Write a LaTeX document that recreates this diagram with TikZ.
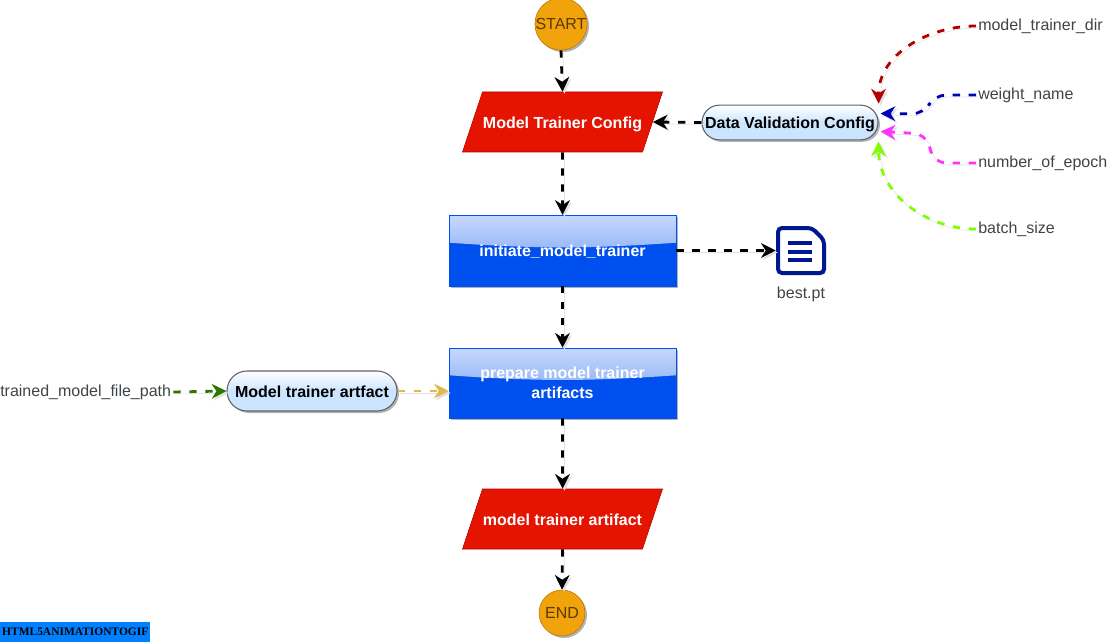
\documentclass[tikz,border=0pt]{standalone}
\usepackage{fontspec}
\setmainfont{Liberation Sans}
\newfontfamily\badgefont{Liberation Serif}
\usetikzlibrary{arrows.meta, positioning, calc, shadows, shapes.geometric, shapes.misc}

\definecolor{startfill}{HTML}{F0A30A}
\definecolor{startline}{HTML}{BD7000}
\definecolor{startfont}{HTML}{5C3A00}
\definecolor{redfill}{HTML}{E51400}
\definecolor{redline}{HTML}{B20000}
\definecolor{bluefill}{HTML}{0050EF}
\definecolor{pillfill}{HTML}{CCE5FF}
\definecolor{pillline}{HTML}{5F6368}
\definecolor{labelfont}{HTML}{3F4448}
\definecolor{navyicon}{HTML}{00188F}
\definecolor{badgeblue}{HTML}{0080FF}
\definecolor{weightline}{HTML}{0000BB}
\definecolor{epochline}{HTML}{FF33FF}
\definecolor{batchline}{HTML}{80FF00}
\definecolor{pathline}{HTML}{2D7600}
\definecolor{goldline}{HTML}{E0B84F}

\tikzset{
    softshadow/.style={drop shadow={shadow xshift=1.5pt, shadow yshift=-1.5pt, opacity=0.3, fill=black}},
    basefont/.style={font=\fontsize{12}{15}\selectfont},
    terminal/.style={circle, basefont, draw=startline, fill=startfill, text=startfont, inner sep=0pt, softshadow},
    databox/.style={trapezium, trapezium left angle=71.6, trapezium right angle=108.4, trapezium stretches body=true,
        minimum width=150pt, inner xsep=0pt, inner ysep=16.5pt, text height=10.5pt, text depth=1.5pt,
        font=\fontsize{12}{15}\selectfont\bfseries, draw=redline, line width=0.4pt, fill=redfill, text=white},
    stepbox/.style={rectangle, minimum width=170.25pt, inner sep=0pt, align=center, text=white,
        font=\fontsize{12}{15}\selectfont\bfseries, draw=bluefill, fill=bluefill, softshadow,
        path picture={
            \shade[top color=bluefill!22, bottom color=bluefill!60]
                (path picture bounding box.north west) -- (path picture bounding box.north east)
                -- ($(path picture bounding box.north east)!0.39!(path picture bounding box.south east)$)
                to[bend left=4] ($(path picture bounding box.north west)!0.39!(path picture bounding box.south west)$)
                -- cycle;
        }},
    pillbox/.style={rounded rectangle, inner sep=0pt, font=\fontsize{12}{15}\selectfont\bfseries, text=black,
        text height=9.5pt, text depth=0.5pt,
        draw=pillline, line width=0.8pt, top color=white, bottom color=pillfill, middle color=pillfill, softshadow},
    fieldlabel/.style={basefont, text=labelfont, inner sep=1.5pt},
    flowline/.style={line width=2.1pt, dash pattern=on 5.5pt off 6.5pt,
        -{Stealth[length=11pt, width=11pt, inset=3.5pt]},
        preaction={draw=black!12, transform canvas={shift={(1.5pt,-1.5pt)}}}},
}

\begin{document}
\begin{tikzpicture}[x=0.75pt, y=-0.75pt]
    \useasboundingbox (0,0) rectangle (1115,642);

    % main column
    \node[terminal, minimum size=36.5pt] (startNode) at (561,24) {START};
    \node[databox] (configBox) at (562.5,122) {Model Trainer Config};
    \node[stepbox, minimum height=53pt, text height=9.5pt, text depth=0.5pt] (initiateBox) at (562.5,250.5) {initiate\_model\_trainer};
    \node[stepbox, minimum height=52.5pt] (prepareBox) at (562.5,383) {prepare model trainer\\artifacts};
    \node[databox] (artifactBox) at (562.5,519) {model trainer artifact};
    \node[terminal, minimum size=34.5pt] (endNode) at (562,613) {END};

    % side nodes
    \node[pillbox, minimum width=132pt, minimum height=26pt] (validationPill) at (790,122.5) {Data Validation Config};
    \node[pillbox, minimum width=127.5pt, minimum height=30pt] (trainerPill) at (312,391) {Model trainer artfact};

    \node[fieldlabel, anchor=west] (dirLabel) at (976,26) {model\_trainer\_dir};
    \node[fieldlabel, anchor=west] (weightLabel) at (976,95) {weight\_name};
    \node[fieldlabel, anchor=west] (epochLabel) at (976,163) {number\_of\_epoch};
    \node[fieldlabel, anchor=west] (batchLabel) at (976,229) {batch\_size};
    \node[fieldlabel, anchor=west] (pathLabel) at (-2,392) {trained\_model\_file\_path};

    % output file
    \node[minimum size=37.5pt, inner sep=0pt] (bestFile) at (801,250.5) {};
    \draw[navyicon, line width=3pt, rounded corners=3pt, fill=white, drop shadow={shadow xshift=1.5pt, shadow yshift=-1.5pt, opacity=0.2, fill=black}]
        (778,228) -- (812,228) -- (824,240) -- (824,273) -- (778,273) -- cycle;
    \foreach \y in {243,252,260} {
        \draw[navyicon, line width=2.6pt] (788,\y) -- (812,\y);
    }
    \node[fieldlabel, below=6.5pt of bestFile.south] (bestLabel) {best.pt};

    % badge
    \node[anchor=south west, fill=badgeblue, text=black, minimum width=112.5pt, minimum height=15pt, inner sep=0pt,
        font=\badgefont\fontsize{8.6}{10}\selectfont\bfseries] (badgeNode) at (0,642) {HTML5ANIMATIONTOGIF};

    % flow
    \foreach \a/\b in {startNode/configBox, configBox/initiateBox, initiateBox/prepareBox, prepareBox/artifactBox, artifactBox/endNode} {
        \draw[flowline, black] (\a.south) -- (\b.north);
    }
    \draw[flowline, black] (validationPill.west) -- (configBox.east);
    \draw[flowline, black] (initiateBox.east) -- (bestFile.west);

    % inputs of the config
    \coordinate (dirEnd) at ($(validationPill.east)+(0,-19)$);
    \coordinate (weightEnd) at ($(validationPill.east)+(2,-9)$);
    \coordinate (epochEnd) at ($(validationPill.east)+(2,9)$);
    \coordinate (batchEnd) at ($(validationPill.east)+(0,19)$);

    \draw[flowline, redline] (dirLabel.west) to[out=180, in=90] (dirEnd);
    \draw[flowline, weightline, rounded corners=9pt] (weightLabel.west) -- ++(-42,0) -- ++(-10,19) -- (weightEnd);
    \draw[flowline, epochline, rounded corners=9pt] (epochLabel.west) -- ++(-42,0) -- ++(-8,-29) -- (epochEnd);
    \draw[flowline, batchline] (batchLabel.west) to[out=180, in=-90] (batchEnd);

    \draw[flowline, pathline] (pathLabel.east) -- (trainerPill.west);
    \draw[flowline, goldline] (trainerPill.east) -- (trainerPill.east -| prepareBox.west);
\end{tikzpicture}
\end{document}
